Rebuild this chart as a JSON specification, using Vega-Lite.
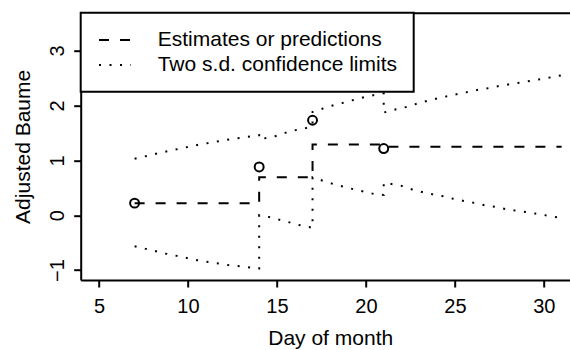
{
  "$schema": "https://vega.github.io/schema/vega-lite/v6.json",
  "width": 489.3,
  "height": 267.3,
  "autosize": {"type": "none"},
  "padding": {"left": 80.7, "top": 12.7, "right": 0, "bottom": 70},
  "config": {
    "view": {"stroke": null},
    "font": "Liberation Sans",
    "axis": {"grid": false, "domainColor": "black", "tickColor": "black", "labelColor": "black", "titleColor": "black", "domainWidth": 2, "tickWidth": 2, "labelFont": "Liberation Sans", "titleFont": "Liberation Sans", "titleFontWeight": "normal"},
    "legend": {"strokeWidth": 2}
  },
  "datasets": {
    "lines": [
      {"series": "Estimates or predictions", "line": "est", "ord": 1, "day": 7, "baume": 0.22},
      {"series": "Estimates or predictions", "line": "est", "ord": 2, "day": 14, "baume": 0.22},
      {"series": "Estimates or predictions", "line": "est", "ord": 3, "day": 14, "baume": 0.69},
      {"series": "Estimates or predictions", "line": "est", "ord": 4, "day": 17, "baume": 0.69},
      {"series": "Estimates or predictions", "line": "est", "ord": 5, "day": 17, "baume": 1.29},
      {"series": "Estimates or predictions", "line": "est", "ord": 6, "day": 21, "baume": 1.29},
      {"series": "Estimates or predictions", "line": "est", "ord": 7, "day": 21, "baume": 1.245},
      {"series": "Estimates or predictions", "line": "est", "ord": 8, "day": 31, "baume": 1.245},
      {"series": "Two s.d. confidence limits", "line": "up", "ord": 1, "day": 7, "baume": 1.03},
      {"series": "Two s.d. confidence limits", "line": "up", "ord": 2, "day": 8.77, "baume": 1.16},
      {"series": "Two s.d. confidence limits", "line": "up", "ord": 3, "day": 10.53, "baume": 1.28},
      {"series": "Two s.d. confidence limits", "line": "up", "ord": 4, "day": 12.31, "baume": 1.38},
      {"series": "Two s.d. confidence limits", "line": "up", "ord": 5, "day": 14, "baume": 1.46},
      {"series": "Two s.d. confidence limits", "line": "up", "ord": 6, "day": 14, "baume": 1.38},
      {"series": "Two s.d. confidence limits", "line": "up", "ord": 7, "day": 14.9, "baume": 1.44},
      {"series": "Two s.d. confidence limits", "line": "up", "ord": 8, "day": 15.46, "baume": 1.5},
      {"series": "Two s.d. confidence limits", "line": "up", "ord": 9, "day": 16.05, "baume": 1.55},
      {"series": "Two s.d. confidence limits", "line": "up", "ord": 10, "day": 16.64, "baume": 1.59},
      {"series": "Two s.d. confidence limits", "line": "up", "ord": 11, "day": 17, "baume": 1.62},
      {"series": "Two s.d. confidence limits", "line": "up", "ord": 12, "day": 17, "baume": 1.88},
      {"series": "Two s.d. confidence limits", "line": "up", "ord": 13, "day": 17.55, "baume": 1.94},
      {"series": "Two s.d. confidence limits", "line": "up", "ord": 14, "day": 18.14, "baume": 2.0},
      {"series": "Two s.d. confidence limits", "line": "up", "ord": 15, "day": 18.73, "baume": 2.05},
      {"series": "Two s.d. confidence limits", "line": "up", "ord": 16, "day": 19.3, "baume": 2.1},
      {"series": "Two s.d. confidence limits", "line": "up", "ord": 17, "day": 19.9, "baume": 2.15},
      {"series": "Two s.d. confidence limits", "line": "up", "ord": 18, "day": 20.48, "baume": 2.19},
      {"series": "Two s.d. confidence limits", "line": "up", "ord": 19, "day": 21, "baume": 2.22},
      {"series": "Two s.d. confidence limits", "line": "up", "ord": 20, "day": 21, "baume": 1.87},
      {"series": "Two s.d. confidence limits", "line": "up", "ord": 21, "day": 21.7, "baume": 1.93},
      {"series": "Two s.d. confidence limits", "line": "up", "ord": 22, "day": 22.26, "baume": 1.97},
      {"series": "Two s.d. confidence limits", "line": "up", "ord": 23, "day": 22.86, "baume": 2.03},
      {"series": "Two s.d. confidence limits", "line": "up", "ord": 24, "day": 23.42, "baume": 2.08},
      {"series": "Two s.d. confidence limits", "line": "up", "ord": 25, "day": 24.02, "baume": 2.13},
      {"series": "Two s.d. confidence limits", "line": "up", "ord": 26, "day": 24.6, "baume": 2.17},
      {"series": "Two s.d. confidence limits", "line": "up", "ord": 27, "day": 25.2, "baume": 2.21},
      {"series": "Two s.d. confidence limits", "line": "up", "ord": 28, "day": 25.8, "baume": 2.25},
      {"series": "Two s.d. confidence limits", "line": "up", "ord": 29, "day": 26.38, "baume": 2.29},
      {"series": "Two s.d. confidence limits", "line": "up", "ord": 30, "day": 26.98, "baume": 2.32},
      {"series": "Two s.d. confidence limits", "line": "up", "ord": 31, "day": 27.58, "baume": 2.36},
      {"series": "Two s.d. confidence limits", "line": "up", "ord": 32, "day": 28.16, "baume": 2.39},
      {"series": "Two s.d. confidence limits", "line": "up", "ord": 33, "day": 28.76, "baume": 2.42},
      {"series": "Two s.d. confidence limits", "line": "up", "ord": 34, "day": 30.54, "baume": 2.52},
      {"series": "Two s.d. confidence limits", "line": "up", "ord": 35, "day": 31, "baume": 2.55},
      {"series": "Two s.d. confidence limits", "line": "low", "ord": 1, "day": 7, "baume": -0.565},
      {"series": "Two s.d. confidence limits", "line": "low", "ord": 2, "day": 8.77, "baume": -0.7},
      {"series": "Two s.d. confidence limits", "line": "low", "ord": 3, "day": 10.53, "baume": -0.82},
      {"series": "Two s.d. confidence limits", "line": "low", "ord": 4, "day": 12.31, "baume": -0.91},
      {"series": "Two s.d. confidence limits", "line": "low", "ord": 5, "day": 14, "baume": -0.97},
      {"series": "Two s.d. confidence limits", "line": "low", "ord": 6, "day": 14, "baume": 0.0},
      {"series": "Two s.d. confidence limits", "line": "low", "ord": 7, "day": 14.52, "baume": -0.03},
      {"series": "Two s.d. confidence limits", "line": "low", "ord": 8, "day": 15.12, "baume": -0.08},
      {"series": "Two s.d. confidence limits", "line": "low", "ord": 9, "day": 15.7, "baume": -0.13},
      {"series": "Two s.d. confidence limits", "line": "low", "ord": 10, "day": 16.26, "baume": -0.18},
      {"series": "Two s.d. confidence limits", "line": "low", "ord": 11, "day": 16.86, "baume": -0.22},
      {"series": "Two s.d. confidence limits", "line": "low", "ord": 12, "day": 17, "baume": -0.23},
      {"series": "Two s.d. confidence limits", "line": "low", "ord": 13, "day": 17, "baume": 0.69},
      {"series": "Two s.d. confidence limits", "line": "low", "ord": 14, "day": 17.61, "baume": 0.625},
      {"series": "Two s.d. confidence limits", "line": "low", "ord": 15, "day": 18.2, "baume": 0.565},
      {"series": "Two s.d. confidence limits", "line": "low", "ord": 16, "day": 18.79, "baume": 0.516},
      {"series": "Two s.d. confidence limits", "line": "low", "ord": 17, "day": 19.37, "baume": 0.468},
      {"series": "Two s.d. confidence limits", "line": "low", "ord": 18, "day": 19.95, "baume": 0.425},
      {"series": "Two s.d. confidence limits", "line": "low", "ord": 19, "day": 20.55, "baume": 0.38},
      {"series": "Two s.d. confidence limits", "line": "low", "ord": 20, "day": 21, "baume": 0.37},
      {"series": "Two s.d. confidence limits", "line": "low", "ord": 21, "day": 21, "baume": 0.595},
      {"series": "Two s.d. confidence limits", "line": "low", "ord": 22, "day": 22.0, "baume": 0.535},
      {"series": "Two s.d. confidence limits", "line": "low", "ord": 23, "day": 22.6, "baume": 0.47},
      {"series": "Two s.d. confidence limits", "line": "low", "ord": 24, "day": 23.2, "baume": 0.42},
      {"series": "Two s.d. confidence limits", "line": "low", "ord": 25, "day": 23.76, "baume": 0.38},
      {"series": "Two s.d. confidence limits", "line": "low", "ord": 26, "day": 24.35, "baume": 0.346},
      {"series": "Two s.d. confidence limits", "line": "low", "ord": 27, "day": 24.9, "baume": 0.3},
      {"series": "Two s.d. confidence limits", "line": "low", "ord": 28, "day": 25.5, "baume": 0.26},
      {"series": "Two s.d. confidence limits", "line": "low", "ord": 29, "day": 26.1, "baume": 0.224},
      {"series": "Two s.d. confidence limits", "line": "low", "ord": 30, "day": 26.7, "baume": 0.18},
      {"series": "Two s.d. confidence limits", "line": "low", "ord": 31, "day": 27.3, "baume": 0.15},
      {"series": "Two s.d. confidence limits", "line": "low", "ord": 32, "day": 27.88, "baume": 0.11},
      {"series": "Two s.d. confidence limits", "line": "low", "ord": 33, "day": 28.48, "baume": 0.08},
      {"series": "Two s.d. confidence limits", "line": "low", "ord": 34, "day": 29.07, "baume": 0.055},
      {"series": "Two s.d. confidence limits", "line": "low", "ord": 35, "day": 30.8, "baume": -0.04},
      {"series": "Two s.d. confidence limits", "line": "low", "ord": 36, "day": 31, "baume": -0.05}
    ],
    "obs": [
      {"day": 7, "baume": 0.22},
      {"day": 14, "baume": 0.88},
      {"day": 17, "baume": 1.73},
      {"day": 21, "baume": 1.215}
    ]
  },
  "layer": [
    {
      "data": {"name": "lines"},
      "mark": {"type": "line", "color": "black", "strokeWidth": 2, "strokeCap": "butt"},
      "encoding": {
        "x": {
          "field": "day", "type": "quantitative",
          "scale": {"domain": [3.97, 31.47], "nice": false, "zero": false},
          "axis": {"orient": "bottom", "values": [5, 10, 15, 20, 25, 30], "format": "d", "title": "Day of month", "tickSize": 7, "labelFontSize": 20, "labelBaseline": "top", "labelPadding": 9, "labelFlush": false, "labelOverlap": false, "titleFontSize": 21, "titleX": 249.5, "titleY": 64.5, "titleAlign": "center", "titleBaseline": "alphabetic"}
        },
        "y": {
          "field": "baume", "type": "quantitative",
          "scale": {"domain": [-1.18, 3.689], "nice": false, "zero": false},
          "axis": {"values": [-1, 0, 1, 2, 3], "format": "d", "title": "Adjusted Baume", "tickSize": 7, "labelFontSize": 20, "labelAngle": 270, "labelAlign": "center", "labelBaseline": "alphabetic", "labelPadding": 10.5, "labelOverlap": false, "labelFlush": false, "titleFontSize": 21, "titleAngle": 270, "titleX": -50.7, "titleY": 133.65, "titleAlign": "center", "titleBaseline": "alphabetic"}
        },
        "detail": {"field": "line", "type": "nominal"},
        "order": {"field": "ord", "type": "quantitative"},
        "strokeDash": {
          "field": "series", "type": "nominal",
          "scale": {"domain": ["Estimates or predictions", "Two s.d. confidence limits"], "range": [[10, 11], [2, 8.5]]},
          "legend": {"orient": "none", "legendX": 0, "legendY": 0, "title": null, "symbolType": "M-1.6,0H1.6", "symbolSize": 400, "symbolStrokeWidth": 2, "symbolStrokeColor": "black", "labelFontSize": 21, "labelFont": "Liberation Sans", "labelColor": "black", "labelOffset": 31.7, "symbolOffset": 7, "rowPadding": 4, "padding": 16.3, "strokeColor": "black", "fillColor": "white", "labelLimit": 0}
        }
      }
    },
    {
      "data": {"name": "obs"},
      "mark": {"type": "point", "shape": "circle", "filled": false, "color": "black", "strokeWidth": 2, "size": 80, "opacity": 1},
      "encoding": {
        "x": {"field": "day", "type": "quantitative", "axis": {"orient": "top", "labels": false, "ticks": false, "title": null, "domain": true}},
        "y": {"field": "baume", "type": "quantitative"}
      }
    }
  ],
  "resolve": {"axis": {"x": "independent"}}
}
